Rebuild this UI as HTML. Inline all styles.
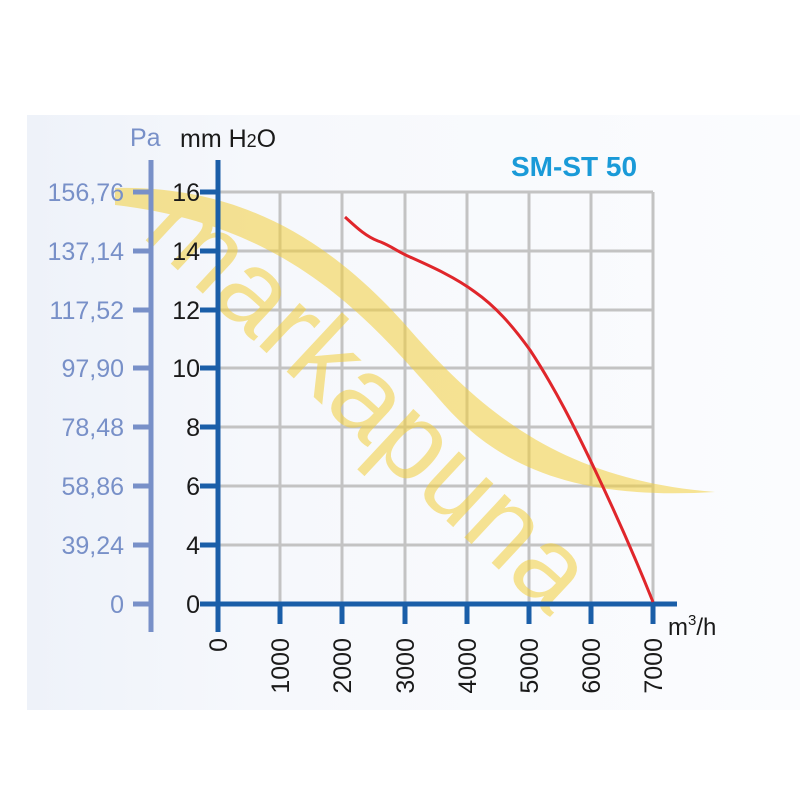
<!DOCTYPE html>
<html><head><meta charset="utf-8"><style>
html,body{margin:0;padding:0;background:#fff;}
svg{display:block;}
text{font-family:"Liberation Sans",sans-serif;}
</style></head><body>
<svg width="800" height="800" viewBox="0 0 800 800">
<defs>
<linearGradient id="bg" x1="0" y1="0" x2="1" y2="0">
<stop offset="0" stop-color="#eef2f9"/><stop offset="0.3" stop-color="#f6f8fc"/><stop offset="1" stop-color="#fbfcfe"/>
</linearGradient>
</defs>
<rect x="27" y="115" width="773" height="595" fill="url(#bg)"/>
<g stroke="#c3c3c3" stroke-width="3" fill="none">
<line x1="218" y1="192" x2="653" y2="192"/>
<line x1="218" y1="251" x2="653" y2="251"/>
<line x1="218" y1="310" x2="653" y2="310"/>
<line x1="218" y1="368" x2="653" y2="368"/>
<line x1="218" y1="427" x2="653" y2="427"/>
<line x1="218" y1="486" x2="653" y2="486"/>
<line x1="218" y1="545" x2="653" y2="545"/>
<line x1="280" y1="192" x2="280" y2="604"/>
<line x1="342" y1="192" x2="342" y2="604"/>
<line x1="405" y1="192" x2="405" y2="604"/>
<line x1="467" y1="192" x2="467" y2="604"/>
<line x1="529" y1="192" x2="529" y2="604"/>
<line x1="591" y1="192" x2="591" y2="604"/>
<line x1="653" y1="192" x2="653" y2="604"/>
</g>
<g opacity="0.55">
<path d="M115,188 C250,185 340,250 410,330 C480,410 560,480 715,492 C580,500 500,470 440,400 C370,320 290,225 115,205 Z" fill="#f3cf3c"/>
<text x="0" y="0" font-size="112" fill="#f3cf3c" transform="translate(140,235) rotate(43)">markapuna</text>
</g>
<g stroke="#7890c8" stroke-width="5">
<line x1="151" y1="160" x2="151" y2="632"/>
<line x1="133" y1="192" x2="151" y2="192"/>
<line x1="133" y1="251" x2="151" y2="251"/>
<line x1="133" y1="310" x2="151" y2="310"/>
<line x1="133" y1="368" x2="151" y2="368"/>
<line x1="133" y1="427" x2="151" y2="427"/>
<line x1="133" y1="486" x2="151" y2="486"/>
<line x1="133" y1="545" x2="151" y2="545"/>
<line x1="133" y1="604" x2="151" y2="604"/>
</g>
<g fill="#7890c8" font-size="25" text-anchor="end">
<text x="124" y="201">156,76</text>
<text x="124" y="260">137,14</text>
<text x="124" y="319">117,52</text>
<text x="124" y="377">97,90</text>
<text x="124" y="436">78,48</text>
<text x="124" y="495">58,86</text>
<text x="124" y="554">39,24</text>
<text x="124" y="613">0</text>
<text x="130" y="146" text-anchor="start">Pa</text>
</g>
<g stroke="#1a5ea8" stroke-width="5">
<line x1="218" y1="160" x2="218" y2="632"/>
<line x1="200" y1="192" x2="218" y2="192"/>
<line x1="200" y1="251" x2="218" y2="251"/>
<line x1="200" y1="310" x2="218" y2="310"/>
<line x1="200" y1="368" x2="218" y2="368"/>
<line x1="200" y1="427" x2="218" y2="427"/>
<line x1="200" y1="486" x2="218" y2="486"/>
<line x1="200" y1="545" x2="218" y2="545"/>
<line x1="200" y1="604" x2="218" y2="604"/>
<line x1="216" y1="604" x2="677" y2="604"/>
<line x1="280" y1="604" x2="280" y2="624"/>
<line x1="342" y1="604" x2="342" y2="624"/>
<line x1="405" y1="604" x2="405" y2="624"/>
<line x1="467" y1="604" x2="467" y2="624"/>
<line x1="529" y1="604" x2="529" y2="624"/>
<line x1="591" y1="604" x2="591" y2="624"/>
<line x1="653" y1="604" x2="653" y2="624"/>
</g>
<g fill="#1a1a1a" font-size="25" text-anchor="end">
<text x="200" y="201">16</text>
<text x="200" y="260">14</text>
<text x="200" y="319">12</text>
<text x="200" y="377">10</text>
<text x="200" y="436">8</text>
<text x="200" y="495">6</text>
<text x="200" y="554">4</text>
<text x="200" y="613">0</text>
</g>
<text x="180" y="147" font-size="25" fill="#1a1a1a">mm H<tspan font-size="18">2</tspan>O</text>
<g fill="#1a1a1a" font-size="25" text-anchor="end">
<text transform="translate(227,638) rotate(-90)">0</text>
<text transform="translate(289,638) rotate(-90)">1000</text>
<text transform="translate(351,638) rotate(-90)">2000</text>
<text transform="translate(414,638) rotate(-90)">3000</text>
<text transform="translate(476,638) rotate(-90)">4000</text>
<text transform="translate(538,638) rotate(-90)">5000</text>
<text transform="translate(600,638) rotate(-90)">6000</text>
<text transform="translate(662,638) rotate(-90)">7000</text>
</g>
<text x="668" y="635" font-size="24" fill="#1a1a1a">m<tspan font-size="15" dy="-10">3</tspan><tspan dy="10">/h</tspan></text>
<text x="511" y="176" font-size="28" font-weight="bold" fill="#1a9ad8">SM-ST 50</text>
<path d="M345,217 C355,226 365,236 378,241 C390,245 398,252 410,257 C430,266 455,277 475,292 C495,306 512,325 530,350 C555,388 575,428 595,470 C615,512 635,557 653,602" fill="none" stroke="#e0262b" stroke-width="3"/>
</svg>
</body></html>
